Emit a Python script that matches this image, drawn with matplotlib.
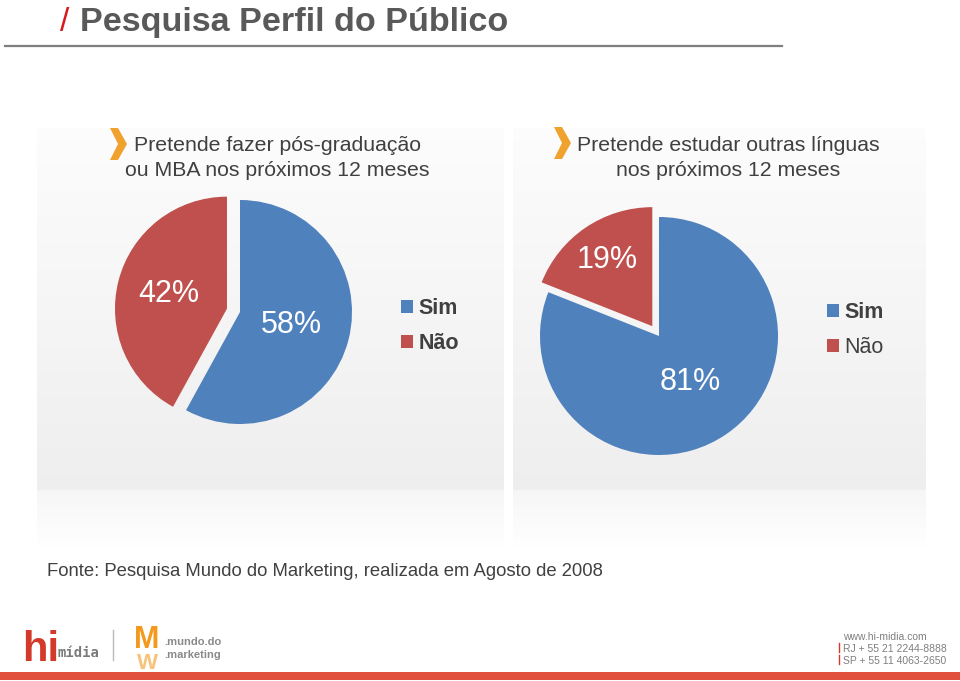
import numpy as np
import matplotlib.pyplot as plt
from matplotlib.patches import Polygon, Rectangle

plt.rcParams['font.family'] = ['Liberation Sans', 'DejaVu Sans']

# data
labels = ['Sim', 'Não']
pos_grad = [58, 42]
linguas = [81, 19]
colors = ['#4f81bd', '#c0504d']

title = 'Pesquisa Perfil do Público'
sub_left = 'Pretende fazer pós-graduação\nou MBA nos próximos 12 meses'
sub_right = 'Pretende estudar outras línguas\nnos próximos 12 meses'
source = 'Fonte: Pesquisa Mundo do Marketing, realizada em Agosto de 2008'

W, H = 960, 681
fig = plt.figure(figsize=(W / 100, H / 100), dpi=100)

# background axes in pixel coordinates
bg = fig.add_axes([0, 0, 1, 1])
bg.set_xlim(0, W)
bg.set_ylim(H, 0)
bg.axis('off')


def panel(x0, x1):
    grad = np.linspace(0.99, 0.935, 200).reshape(-1, 1)
    bg.imshow(np.dstack([grad] * 3), extent=(x0, x1, 490, 128), aspect='auto', zorder=0)
    refl = np.linspace(0.965, 1.0, 100).reshape(-1, 1)
    bg.imshow(np.dstack([refl] * 3), extent=(x0, x1, 548, 490), aspect='auto', zorder=0)


panel(37, 504)
panel(513, 926)
bg.set_xlim(0, W)
bg.set_ylim(H, 0)

# title
bg.text(60, 31, '/', color='#d7191c', fontsize=24)
bg.text(80, 31, title, color='#595959', fontsize=24.6, fontweight='bold')
bg.plot([5, 782], [46, 46], color='#7f7f7f', lw=1.6)

# chevrons + subtitles
for x, y in [(110, 128), (554, 127)]:
    bg.add_patch(Polygon([(x, y), (x + 8, y), (x + 17, y + 16), (x + 8, y + 32),
                          (x, y + 32), (x + 8, y + 16)], closed=True, color='#f0a22e', lw=0))
bg.text(277, 158, sub_left, ha='center', va='center', fontsize=15.3, color='#404040', linespacing=1.38)
bg.text(728, 158, sub_right, ha='center', va='center', fontsize=15.3, color='#404040', linespacing=1.38)

bg.text(47, 576, source, fontsize=13.3, color='#404040')


def pie_axes(cx, cy, r, lim=1.25):
    size = 2 * lim * r
    return fig.add_axes([(cx - size / 2) / W, (H - cy - size / 2) / H, size / W, size / H])


def draw_pie(ax, values, explode, dists):
    wedges, _ = ax.pie(values, colors=colors, startangle=90, counterclock=False,
                       explode=explode, wedgeprops=dict(lw=0))
    for w, v, d in zip(wedges, values, dists):
        ang = np.deg2rad((w.theta1 + w.theta2) / 2)
        cx, cy = w.center
        ax.text(cx + d * w.r * np.cos(ang), cy + d * w.r * np.sin(ang), f'{v}%',
                ha='center', va='center', color='white', fontsize=22)
    ax.set_xlim(-1.25, 1.25)
    ax.set_ylim(-1.25, 1.25)
    ax.set_aspect('equal')
    ax.axis('off')
    return wedges


ax1 = pie_axes(240, 312, 112)
w1 = draw_pie(ax1, pos_grad, [0, 0.12], [0.47, 0.54])
ax2 = pie_axes(659, 336, 119)
w2 = draw_pie(ax2, linguas, [0, 0.1], [0.47, 0.67])


def legend(wedges, x, y, bold):
    lg = bg.legend(wedges, labels, loc='center left', bbox_to_anchor=(x, y),
                   bbox_transform=bg.transData, frameon=False, fontsize=15.5,
                   handlelength=0.55, handleheight=0.55, handletextpad=0.25, labelspacing=0.62)
    for t, b in zip(lg.get_texts(), bold):
        t.set_color('#404040')
        if b:
            t.set_fontweight('bold')
    return lg


bg.add_artist(legend(w1, 382, 326, [True, True]))
legend(w2, 808, 330, [True, False])

# footer
bg.text(22, 661, 'hi', color='#d43a2a', fontsize=30, fontweight='bold')
bg.text(58, 657, 'mídia', color='#7a7a7a', fontsize=10, fontweight='bold', family='DejaVu Sans Mono')
bg.plot([113, 113], [630, 660], color='#bbbbbb', lw=1)
bg.text(147, 648, 'M', color='#f39a1e', fontsize=22, fontweight='bold', ha='center')
bg.text(147, 653, 'W', color='#f7c27a', fontsize=16, fontweight='bold', ha='center', va='top')
bg.text(164, 645, '.mundo.do', color='#8a8a8a', fontsize=8, fontweight='bold')
bg.text(164, 658, '.marketing', color='#8a8a8a', fontsize=8, fontweight='bold')
bg.text(843, 640, 'www.hi-midia.com', color='#7f7f7f', fontsize=7.5)
bg.text(843, 652, 'RJ + 55 21 2244-8888', color='#7f7f7f', fontsize=7.5)
bg.text(843, 664, 'SP + 55 11 4063-2650', color='#7f7f7f', fontsize=7.5)
bg.plot([839, 839], [643, 652], color='#d43a2a', lw=1)
bg.plot([839, 839], [655, 664], color='#d43a2a', lw=1)
bg.add_patch(Rectangle((0, 672), W, 8, color='#e0503c', lw=0))

fig.savefig('out.png', dpi=100)
